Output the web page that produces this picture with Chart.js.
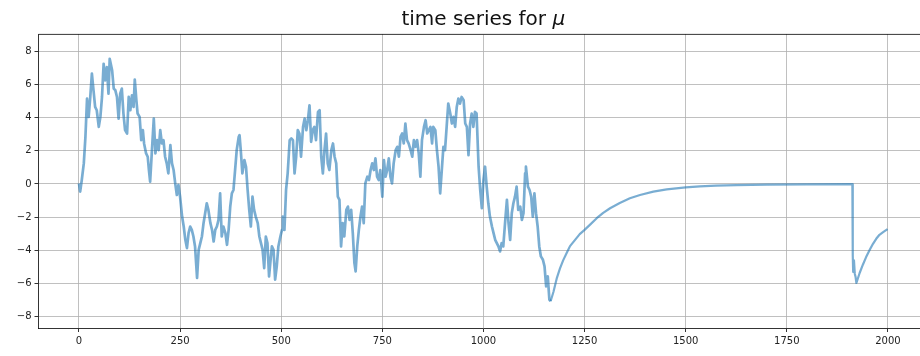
<!DOCTYPE html>
<html>
<head>
<meta charset="utf-8">
<style>
  html, body { margin: 0; padding: 0; background: #fff; overflow: hidden; width: 920px; height: 356px; }
  #wrap { position: relative; width: 940px; height: 356px; }
  canvas { display: block; }
</style>
<script src="https://cdn.jsdelivr.net/npm/chart.js@4"></script>
</head>
<body>
<div id="wrap"><canvas id="chart" width="940" height="356" style="width:940px;height:356px"></canvas></div>
<script>
// Simulation step index
const steps = [
  0,3,7,12,16,20,24,28,32,36, 40,44,49,53,57,61,65,69,73,76,
  82,86,90,94,98,102,106,110,114,119, 123,127,131,135,138,142,145,150,154,158,
  161,166,170,173,176,180,185,189,193,197, 201,205,209,213,217,221,226,230,234,238,
  242,246,250,255,259,263,267,271,275,279, 283,287,292,296,300,304,308,312,316,320,
  325,329,333,337,341,345,349,353,357,362, 366,370,374,378,382,386,390,395,397,400,
  404,409,413,417,421,425,429,433,437,442, 446,450,454,458,462,466,470,
  473,477,481,485,489,493,498,502,504,508, 512,516,521,525,529,533,537,541,545,549,
  554,558,562,566,570,574,578,582,586,591, 595,599,603,607,611,615,619,624,628,632,
  636,640,644,648,652,656,661,665,669,673, 677,681,684,688,692,696,700,704,708,713,
  717,721,725,729,733,737,741,745,750,754, 758,762,766,770,774,778,783,787,791,795,
  799,803,807,811,815,820,824,828,832,836, 840,844,848,853,857,861,865,869,873,
  876,881,885,889,893,897,901,905,909,913, 918,922,926,930,934,938,942,946,951,955,
  959,963,967,971,975,979,983,988,992,996, 1000,1004,1008,1012,1016,1021,1025,1029,1033,1037,
  1041,1045,1049,1054,1058,1062,1066,1070,1074,1078, 1082,1086,1091,1095,1099,1103,1105,1110,1114,1118,
  1122,1126,1130,1134,1138,1142,1147,1151,1155,1159, 1163,1166,
  1173,1181,1189,1197,1206,1214,1222,1230,1238,1250, 1263,1280,1296,1313,1337,1362,1387,1420,1453,1500,
  1535,1575,1625,1700,1800,1912,
  1913,1914,1916,1918,1920,1922,1930,1938,1946,1955, 1963,1971,1979,1988,1999
];

// Value of mu at each step
const mu = [
  0.04,-0.46,0.24,1.24,2.84,5.14,4.04,5.24,6.64,5.64, 4.64,4.44,3.44,4.04,5.24,7.24,6.24,7.04,5.44,7.54,
  6.84,5.74,5.64,5.24,3.94,5.44,5.74,4.24,3.24,3.04, 5.24,4.44,5.34,4.64,6.28,5.04,4.24,4.04,2.64,3.24,
  2.44,1.84,1.64,0.84,0.14,1.84,3.94,1.84,2.64,2.04, 3.24,2.44,2.64,1.64,1.24,0.64,2.34,1.24,0.84,0.04,
  -0.66,-0.06,-0.76,-1.96,-2.56,-3.36,-3.86,-2.96,-2.56,-2.76, -3.16,-3.76,-5.66,-3.96,-3.56,-3.16,-2.36,-1.76,-1.16,-1.56,
  -2.36,-2.76,-3.46,-2.76,-2.56,-2.16,-0.56,-3.16,-2.56,-2.96, -3.66,-2.76,-1.36,-0.56,-0.36,0.84,2.04,2.84,2.94,2.04,
  0.64,1.44,1.04,-0.36,-1.56,-2.56,-0.76,-1.56,-1.96,-2.36, -3.16,-3.56,-3.96,-5.06,-3.16,-3.56,-5.56,
  -4.76,-3.76,-3.96,-5.76,-4.96,-3.76,-3.16,-2.76,-1.96,-2.76, -0.36,0.64,2.64,2.74,2.64,0.64,1.64,3.24,3.04,1.64,
  3.44,3.94,3.24,3.84,4.74,2.54,3.24,3.44,2.64,4.34, 4.44,1.64,0.64,2.04,3.04,1.24,0.84,2.04,2.44,1.64,
  1.24,-0.76,-0.96,-3.76,-2.36,-3.16,-1.56,-1.36,-2.16,-1.56, -2.96,-4.76,-5.26,-3.76,-2.76,-1.96,-1.36,-2.36,0.04,0.44,
  0.24,0.84,1.24,0.84,1.54,0.44,0.24,0.84,-0.76,1.44, 0.44,0.84,1.54,0.44,0.04,1.24,2.04,2.24,1.64,2.84,
  3.04,2.44,3.64,2.64,2.44,2.04,1.64,2.64,2.24,2.64, 1.84,0.44,2.64,3.44,3.84,3.04,3.24,3.44,2.44,
  3.44,3.24,2.04,1.04,-0.56,0.84,2.24,2.04,3.44,4.84, 4.24,3.64,4.04,3.44,4.64,5.14,4.84,5.24,5.04,3.64,
  3.44,1.74,3.64,4.24,3.44,4.34,4.24,1.04,-0.36,-1.46, 0.24,1.04,-0.16,-1.16,-1.96,-2.56,-2.96,-3.36,-3.56,-3.76,
  -4.06,-3.56,-3.76,-2.16,-0.96,-2.36,-3.36,-1.76,-1.16,-0.76, -0.16,-1.56,-1.36,-2.16,-1.76,0.64,1.04,-0.16,-0.36,-0.76,
  -1.96,-0.56,-1.76,-2.56,-3.76,-4.36,-4.56,-4.96,-6.16,-5.56, -6.96,-7.06,
  -6.5,-5.7,-5.1,-4.6,-4.14,-3.74,-3.5,-3.26,-3.02,-2.76, -2.46,-2.06,-1.74,-1.46,-1.14,-0.86,-0.66,-0.46,-0.32,-0.2,
  -0.14,-0.1,-0.07,-0.04,-0.02,-0.01,
  -4.3,-5.3,-4.6,-5.4,-5.6,-5.96,-5.36,-4.86,-4.4,-3.96, -3.6,-3.3,-3.06,-2.9,-2.72
];

const xTicks = [0, 250, 500, 750, 1000, 1250, 1500, 1750, 2000];
const yTicks = [-8, -6, -4, -2, 0, 2, 4, 6, 8];
const titleText = 'time series for ';
const titleSymbol = 'μ';
// Last step of the noisy stretch (drawn slightly heavier)
const noisyEnd = 1166;

const FONT = '"DejaVu Sans", sans-serif';
const minus = v => (v < 0 ? '\u2212' + Math.abs(v) : String(v));

// Title (with italic symbol) plus the top/right frame lines
const framePlugin = {
  id: 'frame',
  afterDraw(chart) {
    const { ctx, chartArea: a } = chart;
    ctx.save();
    ctx.strokeStyle = '#000';
    ctx.lineWidth = 0.8;
    ctx.beginPath();
    ctx.moveTo(a.left, Math.round(a.top) + 0.4);
    ctx.lineTo(a.right, Math.round(a.top) + 0.4);
    ctx.moveTo(Math.round(a.right) - 0.4, a.top);
    ctx.lineTo(Math.round(a.right) - 0.4, a.bottom);
    ctx.stroke();

    const size = 20;
    ctx.fillStyle = '#111';
    ctx.textBaseline = 'alphabetic';
    ctx.font = `${size}px ${FONT}`;
    const w1 = ctx.measureText(titleText).width;
    ctx.font = `italic ${size}px ${FONT}`;
    const w2 = ctx.measureText(titleSymbol).width;
    const cx = (a.left + a.right) / 2;
    const x0 = cx - (w1 + w2) / 2;
    const baseY = 25;
    ctx.font = `${size}px ${FONT}`;
    ctx.textAlign = 'left';
    ctx.fillText(titleText, x0, baseY);
    ctx.font = `italic ${size}px ${FONT}`;
    ctx.fillText(titleSymbol, x0 + w1, baseY);
    ctx.restore();
  }
};

const gridCommon = {
  color: '#b0b0b0',
  lineWidth: 0.8,
  drawTicks: true,
  tickLength: 4,
  tickColor: '#000',
  tickWidth: 0.8
};

new Chart(document.getElementById('chart'), {
  type: 'line',
  data: {
    datasets: [{
      data: steps.map((t, i) => ({ x: t, y: mu[i] })),
      borderColor: 'rgba(31,119,180,0.6)',
      borderWidth: 2.2,
      segment: {
        borderWidth: c => (c.p1.parsed.x <= noisyEnd ? 2.7 : 2.2)
      },
      pointRadius: 0,
      tension: 0,
      fill: false,
      borderJoinStyle: 'round'
    }]
  },
  options: {
    responsive: false,
    animation: false,
    devicePixelRatio: 1,
    layout: { padding: { left: 0, top: 34, right: 12, bottom: 0 } },
    plugins: { legend: { display: false }, tooltip: { enabled: false }, title: { display: false } },
    scales: {
      x: {
        type: 'linear',
        min: -100,
        max: 2099,
        afterBuildTicks: s => { s.ticks = xTicks.map(v => ({ value: v })); },
        afterFit: s => { s.height = 28; },
        grid: gridCommon,
        border: { display: true, color: '#000', width: 0.8 },
        ticks: {
          autoSkip: false, maxRotation: 0, padding: 3, color: '#222',
          font: { family: FONT, size: 10 },
          callback: v => minus(v)
        }
      },
      y: {
        type: 'linear',
        min: -8.67,
        max: 9.03,
        afterBuildTicks: s => { s.ticks = yTicks.map(v => ({ value: v })); },
        afterFit: s => { s.width = 38.5; },
        grid: gridCommon,
        border: { display: true, color: '#000', width: 0.8 },
        ticks: {
          autoSkip: false, padding: 3, color: '#222',
          font: { family: FONT, size: 10 },
          callback: v => minus(v)
        }
      }
    }
  },
  plugins: [framePlugin]
});
</script>
</body>
</html>
